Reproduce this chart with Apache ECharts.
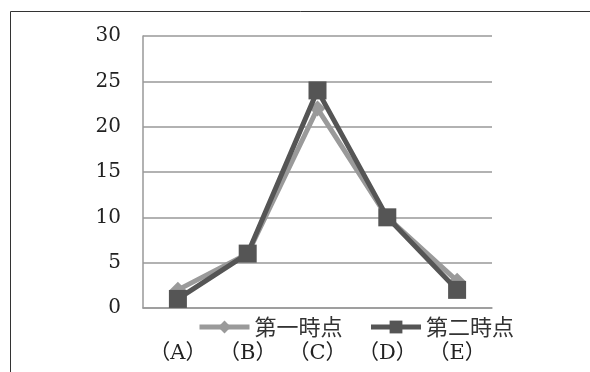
<!DOCTYPE html>
<html>
<head>
<meta charset="utf-8">
<script src="https://cdn.jsdelivr.net/npm/echarts@6/dist/echarts.min.js"></script>
<style>
html, body { margin: 0; padding: 0; background: #fff; }
#chart { width: 590px; height: 372px; }
</style>
</head>
<body>
<div id="chart"></div>
<script>
// Categories and the two survey points
const categories = ['（A）', '（B）', '（C）', '（D）', '（E）'];
const firstPoint = [2, 6, 22, 10, 3];
const secondPoint = [1, 6, 24, 10, 2];
const seriesNames = ['第一時点', '第二時点'];

const serifFont = '"DejaVu Serif", "Liberation Serif", "Noto Sans CJK JP", serif';
const cjkFont = '"Noto Sans CJK JP", "Noto Sans CJK SC", sans-serif';

const lightGray = '#9a9a9a';
const darkGray = '#555';

const chart = echarts.init(document.getElementById('chart'));
chart.setOption({
  animation: false,
  backgroundColor: '#fff',
  graphic: [{
    type: 'rect',
    shape: { x: 10.5, y: 11.5, width: 700, height: 500 },
    style: { fill: 'none', stroke: '#333', lineWidth: 1 },
    silent: true,
    z: -10
  }],
  grid: { left: 143, right: 98, top: 36, bottom: 64 },
  legend: {
    left: 192,
    top: 311,
    itemWidth: 50,
    itemHeight: 16,
    itemGap: 26,
    textStyle: { fontFamily: cjkFont, fontSize: 22, color: '#333' },
    data: [
      { name: seriesNames[0], lineStyle: { width: 5, color: lightGray } },
      { name: seriesNames[1], lineStyle: { width: 5, color: darkGray } }
    ]
  },
  xAxis: {
    type: 'category',
    data: categories,
    boundaryGap: true,
    axisLine: { lineStyle: { color: '#999', width: 1.5 } },
    axisTick: { show: false },
    axisLabel: { interval: 0, margin: 35, fontFamily: serifFont, fontSize: 21, color: '#222' }
  },
  yAxis: {
    type: 'value',
    min: 0,
    max: 30,
    interval: 5,
    axisLine: { show: true, lineStyle: { color: '#999', width: 1.5 } },
    axisTick: { show: false },
    splitLine: { lineStyle: { color: '#999', width: 1.5 } },
    axisLabel: { margin: 22, fontFamily: serifFont, fontSize: 20, color: '#222' }
  },
  series: [
    {
      name: seriesNames[0],
      type: 'line',
      data: firstPoint,
      symbol: 'diamond',
      symbolSize: 16,
      itemStyle: { color: lightGray },
      lineStyle: { color: lightGray, width: 5 },
      z: 2
    },
    {
      name: seriesNames[1],
      type: 'line',
      data: secondPoint,
      symbol: 'rect',
      symbolSize: 18,
      itemStyle: { color: darkGray },
      lineStyle: { color: darkGray, width: 5 },
      z: 3
    }
  ]
});
</script>
</body>
</html>
